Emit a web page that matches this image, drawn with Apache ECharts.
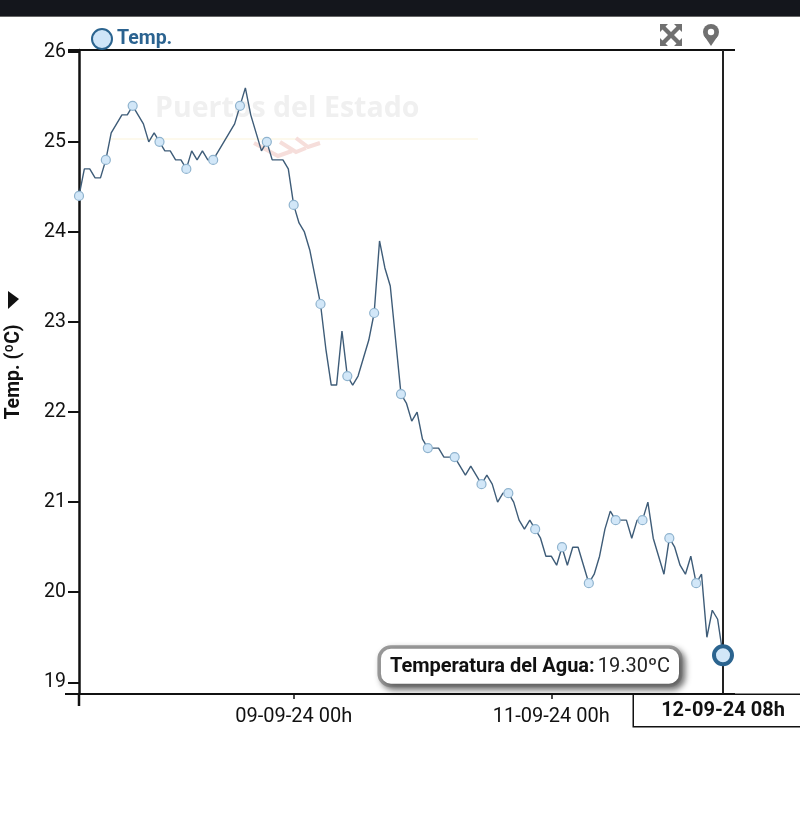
<!DOCTYPE html>
<html><head><meta charset="utf-8">
<style>html,body{margin:0;padding:0;background:#fff}#c{width:800px;height:832px}</style>
<script src="https://cdn.jsdelivr.net/npm/echarts@6/dist/echarts.min.js"></script>
</head><body><div id="c"></div>
<script>
const seriesName = 'Temp.';
const tooltipName = 'Temperatura del Agua:';
const yAxisName = 'Temp. (ºC)';
const yTicks = [19,20,21,22,23,24,25,26];
const xTickLabels = ['09-09-24 00h','11-09-24 00h'];
const times = [
'07-09-24 08h','07-09-24 09h','07-09-24 10h','07-09-24 11h','07-09-24 12h','07-09-24 13h','07-09-24 14h','07-09-24 15h','07-09-24 16h','07-09-24 17h','07-09-24 18h','07-09-24 19h','07-09-24 20h','07-09-24 21h','07-09-24 22h','07-09-24 23h',
'08-09-24 00h','08-09-24 01h','08-09-24 02h','08-09-24 03h','08-09-24 04h','08-09-24 05h','08-09-24 06h','08-09-24 07h','08-09-24 08h','08-09-24 09h','08-09-24 10h','08-09-24 11h','08-09-24 12h','08-09-24 13h','08-09-24 14h','08-09-24 15h','08-09-24 16h','08-09-24 17h','08-09-24 18h','08-09-24 19h','08-09-24 20h','08-09-24 21h','08-09-24 22h','08-09-24 23h',
'09-09-24 00h','09-09-24 01h','09-09-24 02h','09-09-24 03h','09-09-24 04h','09-09-24 05h','09-09-24 06h','09-09-24 07h','09-09-24 08h','09-09-24 09h','09-09-24 10h','09-09-24 11h','09-09-24 12h','09-09-24 13h','09-09-24 14h','09-09-24 15h','09-09-24 16h','09-09-24 17h','09-09-24 18h','09-09-24 19h','09-09-24 20h','09-09-24 21h','09-09-24 22h','09-09-24 23h',
'10-09-24 00h','10-09-24 01h','10-09-24 02h','10-09-24 03h','10-09-24 04h','10-09-24 05h','10-09-24 06h','10-09-24 07h','10-09-24 08h','10-09-24 09h','10-09-24 10h','10-09-24 11h','10-09-24 12h','10-09-24 13h','10-09-24 14h','10-09-24 15h','10-09-24 16h','10-09-24 17h','10-09-24 18h','10-09-24 19h','10-09-24 20h','10-09-24 21h','10-09-24 22h','10-09-24 23h',
'11-09-24 00h','11-09-24 01h','11-09-24 02h','11-09-24 03h','11-09-24 04h','11-09-24 05h','11-09-24 06h','11-09-24 07h','11-09-24 08h','11-09-24 09h','11-09-24 10h','11-09-24 11h','11-09-24 12h','11-09-24 13h','11-09-24 14h','11-09-24 15h','11-09-24 16h','11-09-24 17h','11-09-24 18h','11-09-24 19h','11-09-24 20h','11-09-24 21h','11-09-24 22h','11-09-24 23h',
'12-09-24 00h','12-09-24 01h','12-09-24 02h','12-09-24 03h','12-09-24 04h','12-09-24 05h','12-09-24 06h','12-09-24 07h','12-09-24 08h'];
const temps = [
24.4,24.7,24.7,24.6,24.6,24.8,25.1,25.2,25.3,25.3,
25.4,25.3,25.2,25.0,25.1,25.0,24.9,24.9,24.8,24.8,
24.7,24.9,24.8,24.9,24.8,24.8,24.9,25.0,25.1,25.2,
25.4,25.6,25.3,25.1,24.9,25.0,24.8,24.8,24.8,24.7,
24.3,24.1,24.0,23.8,23.5,23.2,22.7,22.3,22.3,22.9,
22.4,22.3,22.4,22.6,22.8,23.1,23.9,23.6,23.4,22.8,
22.2,22.1,21.9,22.0,21.7,21.6,21.6,21.6,21.5,21.5,
21.5,21.4,21.3,21.4,21.3,21.2,21.3,21.2,21.0,21.1,
21.1,21.0,20.8,20.7,20.8,20.7,20.6,20.4,20.4,20.3,
20.5,20.3,20.5,20.5,20.3,20.1,20.2,20.4,20.7,20.9,
20.8,20.8,20.8,20.6,20.8,20.8,21.0,20.6,20.4,20.2,
20.6,20.5,20.3,20.2,20.4,20.1,20.2,19.5,19.8,19.7,19.3];

const lastIdx = temps.length - 1;
const font = 'Roboto';
const black = '#111';
const iconGrey = '#707070';
const frame = () => ({stroke:black, lineWidth:2});
const chevron = () => ({stroke:'#f6dedb', lineWidth:4, fill:null});
const chart = echarts.init(document.getElementById('c'), null, {renderer:'canvas'});
chart.setOption({
  animation:false,
  backgroundColor:'#fff',
  textStyle:{fontFamily:font},
  grid:{left:79, right:77, top:50, bottom:138, containLabel:false, outerBoundsMode:'none'},
  legend:{
    left:86, top:23, itemWidth:20, itemHeight:20, itemGap:3, icon:'circle',
    data:[{name:seriesName, itemStyle:{color:'#cfe5f8', borderColor:'#2b648f', borderWidth:2}}],
    textStyle:{fontFamily:font, fontSize:19.5, fontWeight:'bold', color:'#2b6390', padding:[12,0,0,0]}
  },
  xAxis:{
    type:'category', data:times, boundaryGap:false,
    axisLine:{lineStyle:{color:black, width:2}},
    axisTick:{length:5, lineStyle:{color:black, width:1.5}, interval:(i,v)=>xTickLabels.includes(v)},
    axisLabel:{interval:(i,v)=>xTickLabels.includes(v), color:'#111', fontFamily:font, fontSize:20, margin:13, hideOverlap:false},
    splitLine:{show:false}
  },
  yAxis:{
    type:'value', min:18.87, max:26.02,
    name:yAxisName, nameLocation:'middle', nameGap:55, nameRotate:90,
    nameTextStyle:{fontFamily:font, fontSize:19.5, fontWeight:'bold', color:'#111'},
    axisLine:{show:true, lineStyle:{color:black, width:2.5}},
    axisTick:{show:true, length:11, customValues:yTicks, lineStyle:{color:black, width:2}},
    axisLabel:{customValues:yTicks, color:'#111', fontFamily:font, fontSize:19.5, margin:13, padding:[6,0,0,0]},
    splitLine:{show:false}
  },
  series:[{
    name:seriesName, type:'line', data:temps, z:5, clip:false,
    showAllSymbol:true, symbol:'circle',
    symbolSize:(v,p)=>p.dataIndex%5===0 && p.dataIndex!==lastIdx ? 9 : 0,
    lineStyle:{color:'#3e5c78', width:1.4},
    itemStyle:{color:'#d2e7f8', borderColor:'#8fb3ce', borderWidth:1.2, opacity:1},
    markLine:{
      silent:true, symbol:'none', animation:false,
      data:[{xAxis:times[lastIdx]}],
      lineStyle:{color:'#222', width:2, type:'solid'},
      label:{
        show:true, position:'start', distance:[0,1], formatter:()=>times[lastIdx],
        fontFamily:font, fontSize:20, fontWeight:'bold', color:'#111',
        backgroundColor:'#fff', borderColor:'#111', borderWidth:1.5,
        width:178, height:31, lineHeight:31, align:'center', verticalAlign:'top'
      }
    },
    markPoint:{
      silent:true, animation:false, z:20,
      data:[{coord:[times[lastIdx], temps[lastIdx]], value:temps[lastIdx]}],
      symbol:'circle', symbolSize:18,
      itemStyle:{color:'#d2e7f8', borderColor:'#2b648f', borderWidth:4},
      label:{
        show:true, position:'left', distance:33, offset:[0,11],
        formatter:p=>`{b|${tooltipName}} {v|${p.value.toFixed(2)}ºC}`,
        backgroundColor:'#fff', borderColor:'#9a9a9a', borderWidth:3.5, borderRadius:10,
        padding:[8,9,7,9],
        shadowColor:'rgba(0,0,0,0.45)', shadowBlur:6, shadowOffsetX:3, shadowOffsetY:3,
        rich:{
          b:{fontFamily:font, fontSize:20, fontWeight:'bold', color:'#111'},
          v:{fontFamily:font, fontSize:20, color:'#222'}
        }
      }
    }
  }],
  graphic:[
    {type:'rect', silent:true, z:0, shape:{x:0,y:0,width:800,height:16}, style:{fill:'#14161c'}},
    {type:'rect', silent:true, z:0, shape:{x:0,y:16,width:800,height:1}, style:{fill:'#666'}},
    {type:'text', silent:true, z:-1, x:155, y:94, style:{text:'Puertos del Estado', fontFamily:'Open Sans', fontSize:28.5, fontWeight:'bold', fill:'#f0f0f0'}},
    {type:'line', silent:true, z:-1, shape:{x1:110,y1:139,x2:478,y2:139}, style:{stroke:'#fdf7e6', lineWidth:1.5}},
    {type:'polyline', silent:true, z:-1, shape:{points:[[254,143],[278,156],[292,151]]}, style:chevron()},
    {type:'polyline', silent:true, z:-1, shape:{points:[[280,142],[296,152],[306,148]]}, style:chevron()},
    {type:'polyline', silent:true, z:-1, shape:{points:[[296,138],[308,147],[320,143]]}, style:chevron()},
    {type:'line', silent:true, z:3, shape:{x1:68,y1:50,x2:735,y2:50}, style:frame()},
    {type:'line', silent:true, z:3, shape:{x1:65,y1:694,x2:735,y2:694}, style:frame()},
    {type:'line', silent:true, z:3, shape:{x1:79,y1:694,x2:79,y2:706}, style:{stroke:black, lineWidth:2.5}},
    {type:'polygon', silent:true, z:3, shape:{points:[[8,291],[19,299],[8,309]]}, style:{fill:'#111'}},
    {type:'polygon', silent:true, z:3, shape:{points:[[660,24],[668,24],[665.5,26.5],[671,32],[676.5,26.5],[674,24],[682,24],[682,32],[679.5,29.5],[674,35],[679.5,40.5],[682,38],[682,46],[674,46],[676.5,43.5],[671,38],[665.5,43.5],[668,46],[660,46],[660,38],[662.5,40.5],[668,35],[662.5,29.5],[660,32]]}, style:{fill:iconGrey}},
    {type:'circle', silent:true, z:3, shape:{cx:711,cy:32,r:8}, style:{fill:iconGrey}},
    {type:'polygon', silent:true, z:3, shape:{points:[[703.6,35],[711,46],[718.4,35]]}, style:{fill:iconGrey}},
    {type:'circle', silent:true, z:4, shape:{cx:711,cy:32,r:3.2}, style:{fill:'#fff'}}
  ]
});
</script></body></html>
